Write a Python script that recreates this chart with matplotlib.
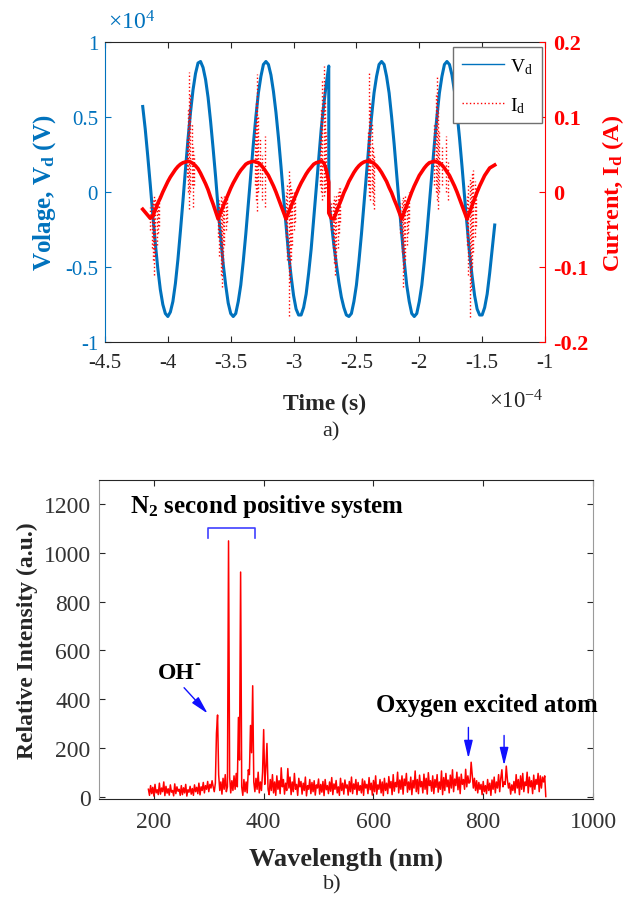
import numpy as np
import matplotlib
matplotlib.use('Agg')
import matplotlib.pyplot as plt
from matplotlib.lines import Line2D

# ---------------- a) discharge voltage / current ----------------
# time in units of 1e-4 s, voltage in units of 1e4 V, current in A
# two recorded segments, stitched at t = -2.72
t_seg1 = np.round(np.arange(-4.20, -2.71, 0.02), 2)
t_seg2 = np.round(np.arange(-2.72, -1.39, 0.02), 2)

v_seg1 = [0.57, 0.42, 0.24, 0.05, -0.15, -0.34, -0.51, -0.65, -0.75, -0.81,
          -0.83, -0.80, -0.73, -0.61, -0.45, -0.26, -0.06, 0.15, 0.35, 0.53,
          0.68, 0.79, 0.86, 0.87, 0.83, 0.75, 0.63, 0.47, 0.29, 0.10,
          -0.11, -0.30, -0.48, -0.62, -0.74, -0.81, -0.83, -0.81, -0.73, -0.62,
          -0.46, -0.28, -0.08, 0.12, 0.32, 0.50, 0.66, 0.77, 0.85, 0.87,
          0.85, 0.78, 0.67, 0.53, 0.36, 0.17, -0.03, -0.22, -0.41, -0.56,
          -0.69, -0.78, -0.82, -0.82, -0.77, -0.68, -0.54, -0.38, -0.18, 0.02,
          0.22, 0.42, 0.58, 0.72, 0.84]
v_seg2 = [-0.05, -0.20, -0.35, -0.48, -0.60, -0.70, -0.77, -0.82, -0.83, -0.81,
          -0.73, -0.62, -0.46, -0.28, -0.08, 0.12, 0.32, 0.50, 0.66, 0.77,
          0.85, 0.87, 0.85, 0.77, 0.66, 0.50, 0.32, 0.12, -0.08, -0.28,
          -0.46, -0.62, -0.73, -0.81, -0.83, -0.81, -0.73, -0.62, -0.46, -0.28,
          -0.08, 0.12, 0.32, 0.50, 0.66, 0.77, 0.85, 0.87, 0.85, 0.78,
          0.67, 0.53, 0.36, 0.17, -0.03, -0.22, -0.41, -0.56, -0.69, -0.78,
          -0.82, -0.82, -0.77, -0.68, -0.54, -0.38, -0.22]

i_seg1 = [-0.023, -0.027, -0.031, -0.035, -0.032, -0.024, -0.015, -0.008, 0.000, 0.007,
          0.014, 0.020, 0.025, 0.030, 0.034, 0.037, 0.039, 0.040, 0.041, 0.040,
          0.038, 0.035, 0.031, 0.025, 0.018, 0.011, 0.003, -0.007, -0.016, -0.026,
          -0.036, -0.027, -0.019, -0.011, -0.003, 0.005, 0.012, 0.018, 0.024, 0.029,
          0.033, 0.037, 0.039, 0.040, 0.041, 0.040, 0.039, 0.036, 0.032, 0.027,
          0.022, 0.015, 0.008, 0.000, -0.009, -0.018, -0.027, -0.036, -0.027, -0.019,
          -0.011, -0.003, 0.005, 0.012, 0.018, 0.024, 0.029, 0.033, 0.037, 0.039,
          0.040, 0.041, 0.039, 0.030, 0.013]
i_seg2 = [-0.028, -0.035, -0.036, -0.027, -0.018, -0.010, -0.001, 0.006, 0.014, 0.020,
          0.026, 0.031, 0.035, 0.038, 0.040, 0.041, 0.041, 0.040, 0.038, 0.035,
          0.031, 0.026, 0.020, 0.014, 0.006, -0.001, -0.010, -0.018, -0.027, -0.036,
          -0.027, -0.018, -0.009, 0.000, 0.008, 0.015, 0.022, 0.027, 0.032, 0.036,
          0.039, 0.040, 0.041, 0.040, 0.039, 0.036, 0.032, 0.027, 0.022, 0.015,
          0.008, 0.000, -0.009, -0.018, -0.027, -0.036, -0.027, -0.018, -0.009, 0.000,
          0.008, 0.015, 0.022, 0.027, 0.032, 0.034, 0.036]

# current spikes (time, low, high)
spike_t = [-4.14, -4.13, -4.12, -4.11, -4.10, -4.09, -4.08, -4.07,
           -3.85, -3.84, -3.83, -3.82, -3.81, -3.80, -3.79,
           -3.60, -3.59, -3.58, -3.57, -3.56, -3.55, -3.54, -3.53,
           -3.31, -3.30, -3.29, -3.28, -3.27, -3.25, -3.23,
           -3.06, -3.05, -3.04, -3.03, -3.02, -3.01, -3.00, -2.99,
           -2.79, -2.78, -2.77, -2.76, -2.75, -2.74,
           -2.70, -2.69, -2.68, -2.67, -2.66, -2.65, -2.64, -2.63,
           -2.41, -2.40, -2.39, -2.38, -2.37, -2.36,
           -2.15, -2.14, -2.13, -2.12, -2.11, -2.10, -2.09, -2.08,
           -1.88, -1.87, -1.86, -1.85, -1.84, -1.82, -1.79, -1.77,
           -1.62, -1.61, -1.60, -1.59, -1.58, -1.57, -1.56, -1.55]
spike_lo = [-0.050, -0.075, -0.090, -0.110, -0.085, -0.070, -0.055, -0.045,
            0.020, 0.000, -0.023, 0.000, 0.010, -0.020, 0.010,
            -0.060, -0.085, -0.110, -0.127, -0.095, -0.070, -0.050, -0.040,
            0.010, -0.010, -0.025, 0.000, 0.010, -0.010, -0.020,
            -0.060, -0.090, -0.165, -0.120, -0.090, -0.070, -0.050, -0.040,
            0.010, 0.000, -0.010, -0.005, 0.000, 0.005,
            -0.050, -0.075, -0.095, -0.110, -0.100, -0.075, -0.055, -0.040,
            0.010, -0.005, -0.010, 0.000, -0.016, -0.023,
            -0.055, -0.080, -0.127, -0.105, -0.090, -0.070, -0.055, -0.040,
            0.010, 0.000, -0.010, -0.023, 0.000, 0.010, 0.000, -0.010,
            -0.070, -0.110, -0.167, -0.130, -0.100, -0.080, -0.060, -0.045]
spike_hi = [-0.020, -0.015, -0.010, -0.005, -0.008, -0.012, -0.008, -0.005,
            0.070, 0.110, 0.160, 0.130, 0.090, 0.060, 0.050,
            -0.020, -0.010, -0.005, -0.008, -0.012, -0.005, -0.002, -0.005,
            0.090, 0.120, 0.157, 0.100, 0.070, 0.050, 0.075,
            0.000, 0.010, 0.030, 0.015, 0.005, 0.000, 0.000, -0.002,
            0.070, 0.110, 0.150, 0.168, 0.120, 0.080,
            -0.015, -0.010, -0.005, -0.008, -0.003, 0.000, 0.005, 0.005,
            0.080, 0.160, 0.120, 0.090, 0.060, 0.050,
            -0.015, -0.010, -0.005, -0.008, -0.005, -0.010, -0.005, 0.000,
            0.090, 0.130, 0.153, 0.110, 0.080, 0.060, 0.075, 0.040,
            -0.005, 0.010, 0.020, 0.015, 0.025, 0.030, 0.015, 0.005]

# ---------------- b) emission spectrum ----------------
wavelength = np.arange(190, 915, 2)   # nm, spectrometer grid
intensity = [30, 5, 45, 12, 38, 2, 50, 15, 28, 8,
             55, 10, 35, 20, 60, 4, 42, 14, 32, 6,
             48, 18, 25, 3, 52, 12, 40, 22, 30, 5,
             45, 8, 36, 15, 50, 2, 28, 18, 42, 10,
             33, 5, 48, 20, 38, 12, 55, 7, 40, 25,
             58, 15, 45, 30, 62, 20, 50, 35, 65, 40,
             20, 55, 260, 335, 90, 25, 60, 10, 75, 30,
             90, 20, 40, 1050, 80, 15, 65, 25, 85, 30,
             95, 40, 325, 150, 922, 40, 5, 70, 20, 60,
             15, 110, 90, 292, 180, 455, 60, 20, 75, 30,
             100, 15, 60, 25, 100, 275, 50, 120, 218, 30,
             8, 70, 25, 90, 15, 60, 5, 85, 30, 65,
             12, 118, 40, 70, 10, 55, 25, 115, 35, 80,
             8, 60, 20, 95, 30, 50, 5, 75, 40, 62,
             10, 55, 25, 80, 3, 45, 30, 70, 12, 58,
             20, 65, 6, 48, 35, 72, 10, 50, 18, 62,
             4, 70, 28, 45, 12, 60, 22, 78, 8, 52,
             30, 66, 15, 40, 5, 75, 25, 55, 10, 68,
             35, 48, 6, 62, 20, 80, 12, 52, 30, 70,
             8, 58, 25, 45, 15, 72, 5, 64, 35, 50,
             12, 78, 28, 55, 6, 66, 20, 85, 10, 48,
             30, 70, 15, 60, 4, 75, 25, 55, 12, 82,
             35, 62, 8, 90, 22, 58, 40, 100, 15, 68,
             30, 85, 10, 72, 45, 95, 18, 60, 28, 80,
             8, 66, 35, 105, 20, 70, 12, 88, 40, 62,
             15, 92, 30, 75, 10, 98, 45, 65, 22, 85,
             12, 70, 38, 90, 18, 60, 30, 105, 8, 78,
             25, 95, 40, 68, 15, 88, 35, 110, 20, 72,
             45, 100, 28, 80, 12, 92, 50, 70, 30, 112,
             40, 85, 55, 60, 141, 90, 35, 75, 25, 65,
             15, 58, 30, 50, 8, 62, 20, 45, 12, 70,
             25, 55, 5, 68, 30, 80, 15, 60, 35, 90,
             20, 75, 110, 40, 60, 50, 125, 70, 35, 55,
             10, 48, 25, 62, 15, 90, 35, 70, 8, 85,
             30, 95, 20, 60, 45, 100, 15, 80, 40, 65,
             12, 88, 30, 70, 50, 95, 20, 85, 35, 80,
             60, 85, 0]

n2_band = (298, 385)          # bracket ends (nm)
n2_bracket_y = (1060, 1104)
oh_arrow = ((255, 447), (298, 341))
oxygen_arrows = [((773, 284), (773, 157)), ((838, 251), (838, 128))]

# ---------------- drawing ----------------
plt.rcParams['font.family'] = 'Liberation Serif'
plt.rcParams['mathtext.fontset'] = 'custom'
plt.rcParams['mathtext.rm'] = 'Liberation Serif'
plt.rcParams['mathtext.it'] = 'Liberation Serif:italic'
plt.rcParams['mathtext.bf'] = 'Liberation Serif:bold'
plt.rcParams['axes.unicode_minus'] = False

blue = '#0072BD'
red = '#FF0000'
dark = '#262626'
arrow_blue = '#1010FF'

W, H = 638.0, 903.0
fig = plt.figure(figsize=(W / 100, H / 100), dpi=100)


def box(l, t, r, b):
    return [l / W, 1 - b / H, (r - l) / W, (b - t) / H]


ax = fig.add_axes(box(105, 43, 545, 343))
ax2 = ax.twinx()

t_all = np.concatenate([t_seg1, t_seg2])
ax.plot(t_all, np.concatenate([v_seg1, v_seg2]), color=blue, lw=2.2)
ax2.plot(t_all, np.concatenate([i_seg1, i_seg2]), color=red, lw=2.6)
ax2.vlines(spike_t, spike_lo, spike_hi, colors=red, linestyles=':', lw=1.0)

ax.set_xlim(-4.5, -1.0)
ax.set_ylim(-1, 1)
ax2.set_ylim(-0.2, 0.2)
xt = np.arange(-4.5, -0.99, 0.5)
ax.set_xticks(xt)
ax.set_xticklabels(['%g' % x for x in xt])
ax.set_yticks([-1, -0.5, 0, 0.5, 1])
ax.set_yticklabels(['-1', '-0.5', '0', '0.5', '1'])
ax2.set_yticks([-0.2, -0.1, 0, 0.1, 0.2])
ax2.set_yticklabels(['-0.2', '-0.1', '0', '0.1', '0.2'], fontweight='bold')

ax.tick_params(axis='x', direction='in', top=True, length=4, color=dark,
               labelcolor=dark, labelsize=15, pad=8)
ax.tick_params(axis='y', direction='in', length=4, color=blue,
               labelcolor=blue, labelsize=15, pad=5)
ax2.tick_params(axis='y', direction='in', length=4, color=red,
                labelcolor=red, labelsize=16, pad=6)
ax.spines['left'].set_color(blue)
ax.spines['right'].set_visible(False)
ax.spines['top'].set_color(dark)
ax.spines['bottom'].set_color(dark)
ax2.spines['left'].set_visible(False)
ax2.spines['top'].set_visible(False)
ax2.spines['bottom'].set_visible(False)
ax2.spines['right'].set_color(red)

ax.set_xlabel('Time (s)', fontsize=17, fontweight='bold', color=dark, labelpad=15)
ax.set_ylabel(r'Volage, V$_{\mathbf{d}}$ (V)', fontsize=18, fontweight='bold',
              color=blue, labelpad=5)
ax2.set_ylabel(r'Current, I$_{\mathbf{d}}$ (A)', fontsize=17.5, fontweight='bold',
               color=red, labelpad=8)

fig.text(108 / W, 1 - 35 / H, r'$\times10^{4}$', color=blue, fontsize=17, va='bottom')
fig.text(489 / W, 1 - 414 / H, r'$\times10^{-4}$', color=dark, fontsize=16.5, va='bottom')
fig.text(331 / W, 1 - 432 / H, 'a)', color=dark, fontsize=16, ha='center', va='center')

handles = [Line2D([], [], color=blue, lw=1.0), Line2D([], [], color=red, lw=1.0, ls=':')]
leg = ax2.legend(handles, [r'V$_{\rm d}$', r'I$_{\rm d}$'], loc='upper right',
                 bbox_to_anchor=(0.993, 0.983), borderaxespad=0, fontsize=14,
                 handlelength=2.2, handletextpad=0.3, borderpad=0.45,
                 labelspacing=1.0, fancybox=False, framealpha=1,
                 edgecolor='#707070')
leg.get_frame().set_linewidth(1.0)

# spectrum
ax3 = fig.add_axes(box(99, 481, 593, 800))
ax3.plot(wavelength, intensity, color=red, lw=1.1)
ax3.set_xlim(100, 1000)
ax3.set_ylim(-10, 1300)
ax3.set_xticks(range(200, 1001, 200))
ax3.set_yticks(range(0, 1201, 200))
ax3.tick_params(axis='both', direction='in', top=True, right=True, length=4,
                color=dark, labelcolor='#333333', labelsize=17)
ax3.tick_params(axis='x', pad=9)
ax3.tick_params(axis='y', pad=6)
for s in ['left', 'right']:
    ax3.spines[s].set_color('#9a9a9a')
for s in ['top', 'bottom']:
    ax3.spines[s].set_color(dark)
ax3.set_xlabel('Wavelength (nm)', fontsize=19, fontweight='bold', color=dark, labelpad=10)
ax3.set_ylabel('Relative Intensity (a.u.)', fontsize=17, fontweight='bold', color=dark,
               labelpad=4)

ax3.plot([n2_band[0], n2_band[0], n2_band[1], n2_band[1]],
         [n2_bracket_y[0], n2_bracket_y[1], n2_bracket_y[1], n2_bracket_y[0]],
         color='#4040FF', lw=1.2)
fig.text(130 / W, 1 - 507 / H, r'N$_{\mathbf{2}}$ second positive system',
         fontsize=18, fontweight='bold', color='black', va='center')
oh = ax3.text(207, 508, 'OH', fontsize=17, fontweight='bold', va='center')
ax3.annotate('-', xy=(1.0, 0.95), xycoords=oh, fontsize=13, fontweight='bold',
             ha='left', va='center')
ax3.text(604, 377, 'Oxygen excited atom', fontsize=17.8, fontweight='bold', va='center')

arrow_kw = dict(arrowstyle='-|>,head_length=0.9,head_width=0.22', color=arrow_blue,
                lw=1.0, mutation_scale=12, shrinkA=0, shrinkB=0)
ax3.annotate('', xy=oh_arrow[1], xytext=oh_arrow[0], arrowprops=arrow_kw)
for start, end in oxygen_arrows:
    ax3.annotate('', xy=end, xytext=start, arrowprops=arrow_kw)

fig.text(332 / W, 1 - 885 / H, 'b)', color=dark, fontsize=16, ha='center', va='center')

fig.savefig('out.png', dpi=100)
